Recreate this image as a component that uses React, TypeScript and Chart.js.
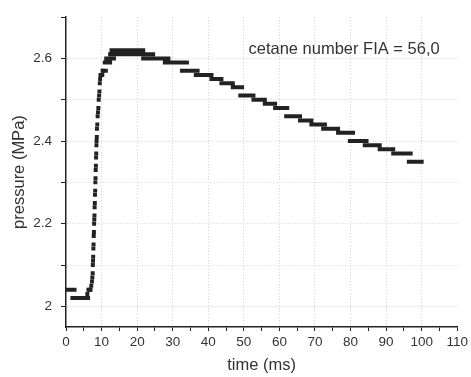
import React, { useEffect, useRef } from "react";
import { Chart, registerables } from "chart.js";

Chart.register(...registerables);

// Rising flank: individual samples (time in ms, pressure in MPa)
const riseTime = [6.0, 6.3, 6.6, 6.9, 7.1, 7.3, 7.4, 7.5, 7.55, 7.6, 7.65, 7.7, 7.75, 7.8, 7.85, 7.9, 7.95, 8.0, 8.05, 8.1, 8.15, 8.2, 8.25, 8.3, 8.35, 8.4, 8.45, 8.5, 8.55, 8.6, 8.65, 8.7, 8.8, 8.9, 9.0, 9.1, 9.2, 9.3, 9.4, 9.5, 9.6, 9.7, 9.8, 10.0, 10.2, 10.4];
const risePressure = [2.03, 2.04, 2.04, 2.04, 2.05, 2.06, 2.07, 2.08, 2.10, 2.11, 2.12, 2.14, 2.15, 2.17, 2.18, 2.20, 2.21, 2.22, 2.24, 2.25, 2.27, 2.28, 2.30, 2.31, 2.33, 2.34, 2.36, 2.37, 2.39, 2.40, 2.41, 2.43, 2.44, 2.46, 2.47, 2.48, 2.50, 2.51, 2.52, 2.54, 2.55, 2.56, 2.56, 2.56, 2.56, 2.57];

// Quantised plateaus: start time, end time, pressure level
const stepStart = [0, 1.8, 10.3, 10.9, 11.3, 12.4, 12.8, 21.7, 27.8, 32.6, 36.5, 40.9, 43.7, 46.9, 49.0, 52.7, 55.9, 58.8, 61.9, 65.8, 69.0, 72.3, 76.5, 79.8, 84.0, 88.2, 92.0, 96.4];
const stepEnd = [2.4, 6.2, 11.2, 12.4, 13.5, 24.5, 21.7, 28.8, 34.0, 37.0, 40.9, 43.7, 46.9, 49.5, 52.7, 55.9, 58.8, 62.2, 65.8, 69.0, 72.8, 76.5, 80.7, 84.5, 88.2, 92.0, 96.9, 100.0];
const stepLevel = [2.04, 2.02, 2.57, 2.59, 2.60, 2.61, 2.62, 2.60, 2.59, 2.57, 2.56, 2.55, 2.54, 2.53, 2.51, 2.50, 2.49, 2.48, 2.46, 2.45, 2.44, 2.43, 2.42, 2.40, 2.39, 2.38, 2.37, 2.35];

const xTickValues = [0, 5, 10, 15, 20, 25, 30, 35, 40, 45, 50, 55, 60, 65, 70, 75, 80, 85, 90, 95, 100, 105, 110];
const xTickLabels = ["0", "", "10", "", "20", "", "30", "", "40", "", "50", "", "60", "", "70", "", "80", "", "90", "", "100", "", "110"];
const yTickValues = [2.0, 2.1, 2.2, 2.3, 2.4, 2.5, 2.6, 2.7];
const yTickLabels = ["2", "", "2.2", "", "2.4", "", "2.6", ""];

const noteText = "cetane number FIA = 56,0";
const noteX = 51.3;
const noteY = 2.621;

const FONT = '"Liberation Sans", Arial, sans-serif';

export default function App() {
  const ref = useRef<HTMLCanvasElement | null>(null);

  useEffect(() => {
    if (!ref.current) return;
    Chart.defaults.font.family = FONT;

    const risePoints = riseTime.map((t, i) => ({ x: t, y: risePressure[i] }));
    const stepPoints: { x: number; y: number | null }[] = [];
    stepLevel.forEach((lv, i) => {
      stepPoints.push({ x: stepStart[i], y: lv });
      stepPoints.push({ x: stepEnd[i], y: lv });
      stepPoints.push({ x: stepEnd[i], y: null });
    });

    const notePlugin = {
      id: "note",
      afterDraw(chart: any) {
        const { ctx, scales } = chart;
        ctx.save();
        ctx.font = `16.5px ${FONT}`;
        ctx.fillStyle = "#333";
        ctx.textAlign = "left";
        ctx.textBaseline = "middle";
        ctx.fillText(noteText, scales.x.getPixelForValue(noteX), scales.y.getPixelForValue(noteY));
        ctx.restore();
      },
    };

    const chart = new Chart(ref.current, {
      type: "scatter",
      data: {
        datasets: [
          {
            data: stepPoints as any,
            showLine: true,
            spanGaps: false,
            borderColor: "#222",
            borderWidth: 4,
            borderCapStyle: "square",
            pointRadius: 0,
          },
          {
            data: risePoints,
            pointStyle: "rect",
            pointRadius: 2.8,
            backgroundColor: "#222",
            borderWidth: 0,
          },
        ],
      },
      options: {
        animation: false,
        responsive: false,
        devicePixelRatio: 1,
        layout: { padding: { top: 12, right: 13, left: 0, bottom: 0 } },
        plugins: { legend: { display: false }, tooltip: { enabled: false } },
        scales: {
          x: {
            type: "linear",
            min: 0,
            max: 110,
            afterBuildTicks: (s: any) => {
              s.ticks = xTickValues.map((v) => ({ value: v }));
            },
            afterFit: (s: any) => {
              s.height = 50;
            },
            ticks: {
              autoSkip: false,
              maxRotation: 0,
              padding: 3,
              color: "#333",
              font: { size: 13.5 },
              callback: (_v: any, i: number) => xTickLabels[i],
            },
            grid: {
              color: (c: any) =>
                c.tick && c.tick.value % 10 === 0 && c.tick.value > 0 && c.tick.value < 110 ? "#d2d2d2" : "rgba(0,0,0,0)",
              lineWidth: 1,
              tickColor: "#222",
              tickLength: 4,
              tickWidth: 1,
            },
            border: { display: true, color: "#222", width: 1.5, dash: [1, 2] },
            title: {
              display: true,
              text: "time (ms)",
              color: "#333",
              font: { size: 16.5 },
              padding: { top: 0, bottom: 2 },
            },
          },
          y: {
            type: "linear",
            min: 1.95,
            max: 2.7,
            afterBuildTicks: (s: any) => {
              s.ticks = yTickValues.map((v) => ({ value: v }));
            },
            afterFit: (s: any) => {
              s.width = 66;
            },
            ticks: {
              autoSkip: false,
              padding: 9,
              color: "#333",
              font: { size: 13.5 },
              callback: (_v: any, i: number) => yTickLabels[i],
            },
            grid: {
              color: (c: any) => (c.tick && c.tick.value < 2.65 ? "#d2d2d2" : "rgba(0,0,0,0)"),
              lineWidth: 1,
              tickColor: "#222",
              tickLength: 5,
              tickWidth: 1,
            },
            border: { display: true, color: "#222", width: 1.5, dash: [1, 2] },
            title: {
              display: true,
              text: "pressure (MPa)",
              color: "#333",
              font: { size: 16.5 },
              padding: { top: 10, bottom: 0 },
            },
          },
        },
      },
      plugins: [notePlugin],
    });

    return () => chart.destroy();
  }, []);

  return (
    <div style={{ position: "fixed", left: 0, top: 0, width: 471, height: 377, background: "#fff" }}>
      <canvas ref={ref} width={471} height={377} style={{ display: "block" }} />
    </div>
  );
}
